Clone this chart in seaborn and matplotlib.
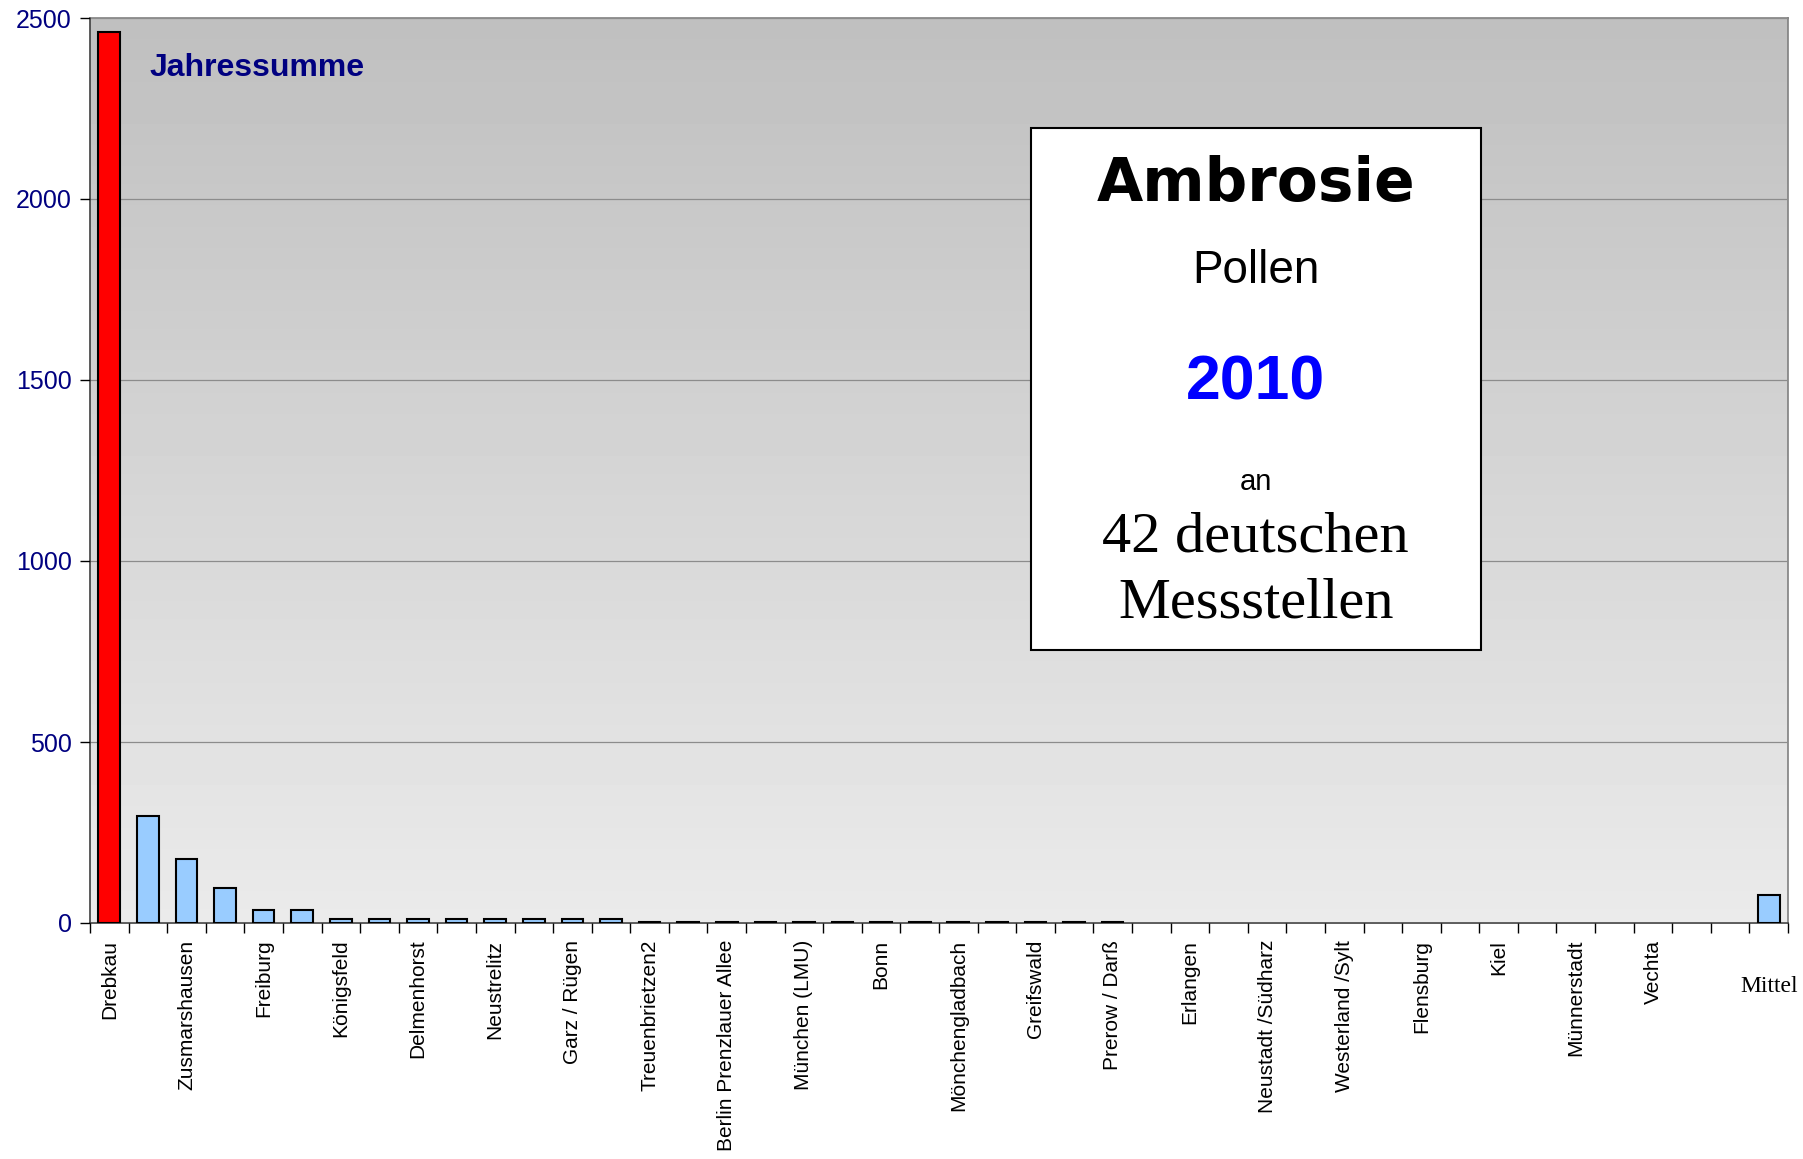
import numpy as np
import pandas as pd
import seaborn as sns
import matplotlib.pyplot as plt

# 42 stations (only every other one is labelled on the axis), one empty slot, then the mean
stations = ["Drebkau", "", "Zusmarshausen", "", "Freiburg", "", "Königsfeld", "",
            "Delmenhorst", "", "Neustrelitz", "", "Garz / Rügen", "", "Treuenbrietzen2", "",
            "Berlin Prenzlauer Allee", "", "München (LMU)", "", "Bonn", "", "Mönchengladbach", "",
            "Greifswald", "", "Prerow / Darß", "", "Erlangen", "", "Neustadt /Südharz", "",
            "Westerland /Sylt", "", "Flensburg", "", "Kiel", "", "Münnerstadt", "",
            "Vechta", "", "", "Mittel"]
pollen = [2460, 295, 177, 96, 36, 36,
          11, 11, 11, 11, 11, 11, 11, 11,
          4, 4, 4, 4, 4, 4, 4, 4, 4, 4, 4, 4, 4,
          0, 0, 0, 0, 0, 0, 0, 0, 0, 0, 0, 0, 0, 0, 0,
          0, 77]
yticks = [0, 500, 1000, 1500, 2000, 2500]

sns.set_theme(style="ticks")
plt.rcParams['font.family'] = ['Liberation Sans', 'DejaVu Sans']
plt.rcParams['text.color'] = 'black'

df = pd.DataFrame({"slot": [str(i) for i in range(len(pollen))], "pollen": pollen})

fig = plt.figure(figsize=(18.03, 11.59), dpi=100)
ax = fig.add_axes([90/1803, (1159-923)/1159, 1698/1803, 905/1159])

# grey gradient background, darker at the top
grad = np.linspace(0.75, 0.92, 256).reshape(-1, 1)
ax.imshow(grad, extent=[0, 1, 0, 1], transform=ax.transAxes, cmap="gray",
          vmin=0, vmax=1, aspect="auto", zorder=0)

sns.barplot(data=df, x="slot", y="pollen", color="#99ccff", saturation=1,
            width=0.56, edgecolor="black", linewidth=1.5, ax=ax, zorder=3)
ax.patches[0].set_facecolor("#ff0000")
for p in ax.patches:
    if p.get_height() == 0:
        p.set_edgecolor("none")

ax.set_xlim(-0.5, len(pollen) - 0.5)
ax.set_ylim(0, 2500)
ax.set_yticks(yticks)
ax.set_yticklabels([str(v) for v in yticks], color="#000080", fontsize=18)
ax.yaxis.grid(True, color="#8c8c8c", linewidth=0.9, zorder=1)
ax.set_axisbelow(False)
ax.set_xlabel("")
ax.set_ylabel("")

# category labels at bar centres, tick marks at the boundaries
ax.set_xticks(range(len(pollen)))
ax.set_xticklabels(stations, rotation=90, fontsize=15, color="black")
ax.tick_params(axis="x", which="major", length=0, pad=12)
ax.set_xticks(np.arange(len(pollen) + 1) - 0.5, minor=True)
ax.tick_params(axis="x", which="minor", length=7, width=1, color="black", direction="out")
ax.tick_params(axis="y", length=7, width=1, color="black", direction="out", pad=6)
last = ax.xaxis.get_major_ticks()[-1]
last.label1.set_rotation(0)
last.label1.set_fontfamily(["Liberation Serif", "DejaVu Serif"])
last.label1.set_fontsize(17)
last.set_pad(38)

for side in ["left", "bottom"]:
    ax.spines[side].set_color("#404040")
    ax.spines[side].set_linewidth(1.2)
for side in ["top", "right"]:
    ax.spines[side].set_visible(True)
    ax.spines[side].set_color("#808080")
    ax.spines[side].set_linewidth(1.2)

ax.text(0.035, 0.945, "Jahressumme", transform=ax.transAxes, color="#000080",
        fontsize=23, fontweight="bold", va="center", ha="left", zorder=5)

# info box
box = plt.Rectangle((0.554, 0.302), 0.265, 0.576, transform=ax.transAxes,
                    facecolor="white", edgecolor="black", linewidth=1.5, zorder=6)
ax.add_patch(box)
cx = 0.6865
def ypos(py):
    return (923 - py) / 905
ax.text(cx, ypos(184), "Ambrosie", transform=ax.transAxes, ha="center", va="center",
        fontsize=43, fontweight="bold", family=["DejaVu Sans"], color="black", zorder=7)
ax.text(cx, ypos(271), "Pollen", transform=ax.transAxes, ha="center", va="center",
        fontsize=33, color="black", zorder=7)
ax.text(cx, ypos(383), "2010", transform=ax.transAxes, ha="center", va="center",
        fontsize=45, fontweight="bold", color="#0000ff", zorder=7)
ax.text(cx, ypos(482), "an", transform=ax.transAxes, ha="center", va="center",
        fontsize=21, color="black", zorder=7)
ax.text(cx, ypos(537), "42 deutschen", transform=ax.transAxes, ha="center", va="center",
        fontsize=42, family=["Liberation Serif", "DejaVu Serif"], color="black", zorder=7)
ax.text(cx, ypos(604), "Messstellen", transform=ax.transAxes, ha="center", va="center",
        fontsize=42, family=["Liberation Serif", "DejaVu Serif"], color="black", zorder=7)

fig.savefig("out.png", dpi=100, facecolor="white")
